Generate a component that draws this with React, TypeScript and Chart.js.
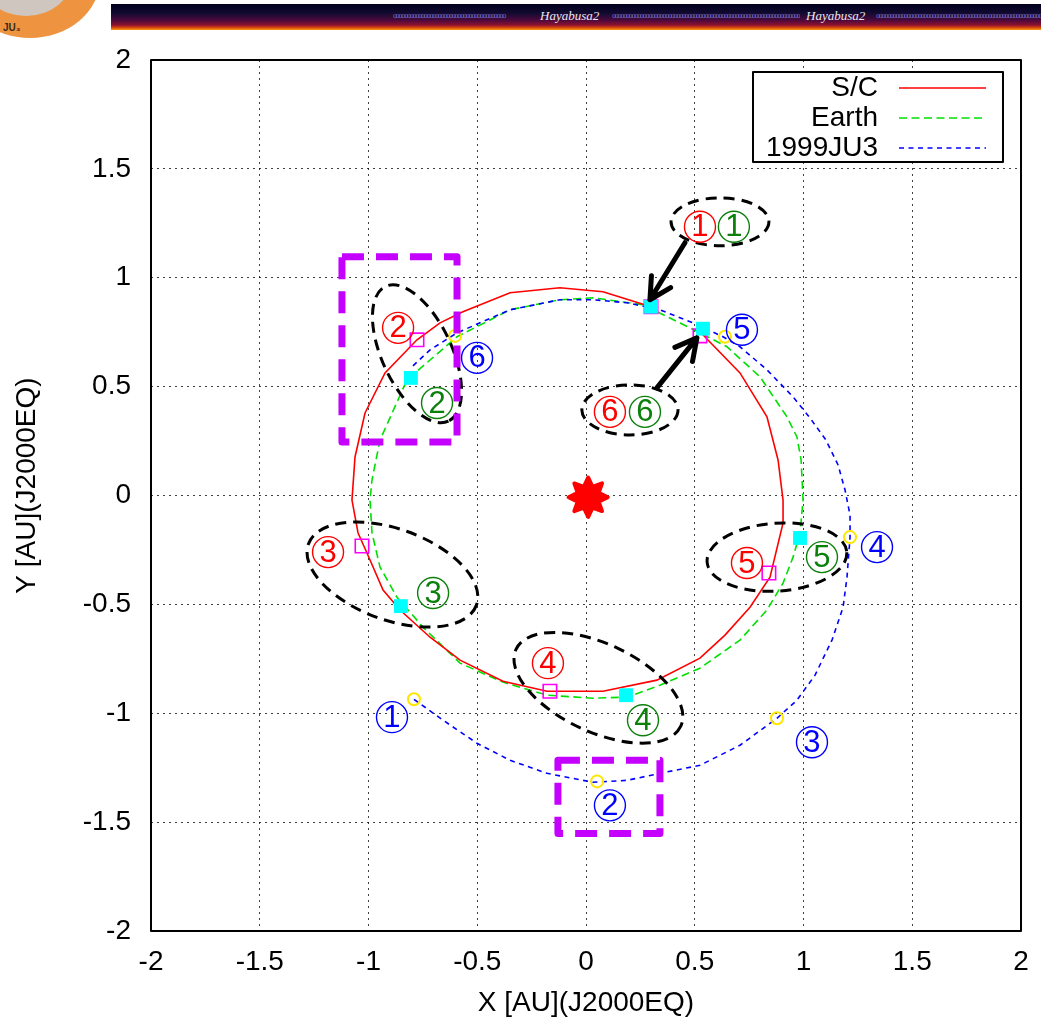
import React, { useEffect, useRef } from "react";
import { Chart, registerables } from "chart.js";

Chart.register(...registerables);

const FONT = "'Liberation Sans', Arial, Helvetica, sans-serif";

// ---- axes ----
const axisMin = -2;
const axisMax = 2;
const tickStep = 0.5;
const xTitle = "X [AU](J2000EQ)";
const yTitle = "Y [AU](J2000EQ)";

// ---- series labels ----
const seriesLabels = ["S/C", "Earth", "1999JU3"];

// ---- trajectories (AU) ----
const scPath: [number, number][] = [
  [0.299, 0.867], [0.078, 0.936], [-0.12, 0.954], [-0.349, 0.931], [-0.566, 0.844],
  [-0.671, 0.793], [-0.777, 0.715], [-0.924, 0.563], [-1.016, 0.379], [-1.062, 0.177],
  [-1.076, -0.021], [-1.048, -0.172], [-1.007, -0.264], [-0.933, -0.434], [-0.855, -0.526],
  [-0.717, -0.651], [-0.579, -0.756], [-0.382, -0.853], [-0.179, -0.899], [0.078, -0.899],
  [0.326, -0.848], [0.524, -0.747], [0.639, -0.641], [0.754, -0.513], [0.846, -0.375],
  [0.906, -0.126], [0.906, -0.021], [0.883, 0.163], [0.832, 0.361], [0.708, 0.563],
  [0.524, 0.752],
];

const earthPath: [number, number][] = [
  [0.262, 0.876], [0.032, 0.908], [-0.12, 0.899], [-0.349, 0.853], [-0.593, 0.729],
  [-0.823, 0.531], [-0.947, 0.255], [-0.984, 0.071], [-0.993, -0.021], [-0.984, -0.172],
  [-0.947, -0.329], [-0.869, -0.467], [-0.749, -0.605], [-0.579, -0.77], [-0.382, -0.857],
  [-0.179, -0.917], [0.032, -0.931], [0.189, -0.926], [0.34, -0.871], [0.524, -0.793],
  [0.708, -0.664], [0.832, -0.526], [0.906, -0.402], [0.952, -0.283], [0.984, -0.172],
  [0.998, -0.021], [0.989, 0.163], [0.97, 0.269], [0.924, 0.361], [0.8, 0.545],
  [0.648, 0.683], [0.524, 0.747], [0.262, 0.876],
];

const ju3Path: [number, number][] = [
  [-0.791, -0.936], [-0.657, -1.032], [-0.501, -1.138], [-0.349, -1.216], [-0.179, -1.276],
  [0.032, -1.317], [0.189, -1.308], [0.34, -1.276], [0.524, -1.239], [0.708, -1.147],
  [0.878, -1.023], [0.97, -0.94], [1.053, -0.825], [1.131, -0.664], [1.182, -0.513],
  [1.2, -0.375], [1.214, -0.191], [1.214, -0.09], [1.191, 0.025], [1.159, 0.14],
  [1.103, 0.255], [1.03, 0.356], [0.952, 0.453], [0.832, 0.577], [0.708, 0.683],
  [0.63, 0.729], [0.492, 0.793], [0.34, 0.853], [0.189, 0.885], [0.032, 0.899],
  [-0.12, 0.899], [-0.349, 0.853], [-0.487, 0.793], [-0.593, 0.747], [-0.717, 0.669],
  [-0.8, 0.591],
];

// ---- event markers 1..6 ----
const scMarks: [number, number][] = [
  [0.299, 0.867], [-0.777, 0.715], [-1.03, -0.232], [-0.166, -0.899], [0.841, -0.356], [0.524, 0.733],
];
const earthMarks: [number, number][] = [
  [0.299, 0.867], [-0.805, 0.54], [-0.851, -0.508], [0.184, -0.917], [0.984, -0.195], [0.538, 0.766],
];
const ju3Marks: [number, number][] = [
  [-0.791, -0.936], [0.051, -1.313], [0.878, -1.023], [1.214, -0.191], [0.639, 0.729], [-0.602, 0.733],
];
const sunPos: [number, number] = [0.01, -0.008];

// ---- annotations (AU) ----
const RED = "#ff0000";
const GREEN = "#0b800b";
const BLUE = "#0000ff";
const circledLabels: { t: string; c: string; p: [number, number] }[] = [
  { t: "1", c: RED, p: [0.524, 1.234] },
  { t: "1", c: GREEN, p: [0.68, 1.234] },
  { t: "6", c: RED, p: [0.11, 0.384] },
  { t: "6", c: GREEN, p: [0.271, 0.384] },
  { t: "5", c: BLUE, p: [0.717, 0.761] },
  { t: "2", c: RED, p: [-0.864, 0.77] },
  { t: "2", c: GREEN, p: [-0.685, 0.425] },
  { t: "6", c: BLUE, p: [-0.501, 0.632] },
  { t: "3", c: RED, p: [-1.186, -0.26] },
  { t: "3", c: GREEN, p: [-0.703, -0.448] },
  { t: "5", c: RED, p: [0.74, -0.31] },
  { t: "5", c: GREEN, p: [1.085, -0.283] },
  { t: "4", c: BLUE, p: [1.338, -0.237] },
  { t: "4", c: RED, p: [-0.175, -0.77] },
  { t: "4", c: GREEN, p: [0.262, -1.032] },
  { t: "1", c: BLUE, p: [-0.892, -1.018] },
  { t: "2", c: BLUE, p: [0.11, -1.423] },
  { t: "3", c: BLUE, p: [1.039, -1.133] },
];
const ellipses: { p: [number, number]; rx: number; ry: number; rot: number }[] = [
  { p: [0.616, 1.257], rx: 0.225, ry: 0.11, rot: 0 },
  { p: [-0.777, 0.651], rx: 0.342, ry: 0.16, rot: 65 },
  { p: [-0.89, -0.363], rx: 0.411, ry: 0.209, rot: 20 },
  { p: [0.057, -0.883], rx: 0.418, ry: 0.202, rot: 25 },
  { p: [0.878, -0.283], rx: 0.322, ry: 0.156, rot: -4 },
  { p: [0.202, 0.393], rx: 0.221, ry: 0.115, rot: 0 },
];
const boxes: { x0: number; y0: number; x1: number; y1: number }[] = [
  { x0: -1.122, y0: 1.097, x1: -0.593, y1: 0.246 },
  { x0: -0.129, y0: -1.216, x1: 0.34, y1: -1.552 },
];
const arrows: { from: [number, number]; to: [number, number] }[] = [
  { from: [0.455, 1.161], to: [0.294, 0.899] },
  { from: [0.326, 0.494], to: [0.51, 0.724] },
];

const toPts = (a: [number, number][]) => a.map(([x, y]) => ({ x, y }));

const overlayPlugin = {
  id: "overlay",
  afterDatasetsDraw(chart: any) {
    const { ctx, chartArea: a } = chart;
    const sx = chart.scales.x;
    const sy = chart.scales.y;
    const px = (v: number) => sx.getPixelForValue(v);
    const py = (v: number) => sy.getPixelForValue(v);
    const ux = px(1) - px(0);
    const uy = py(0) - py(1);

    ctx.save();
    // Sun
    {
      const cx = px(sunPos[0]);
      const cy = py(sunPos[1]);
      ctx.beginPath();
      for (let i = 0; i < 16; i++) {
        const ang = (i * Math.PI) / 8 - Math.PI / 2;
        const r = i % 2 === 0 ? 0.09 * ux : 0.052 * ux;
        const X = cx + r * Math.cos(ang);
        const Y = cy + r * Math.sin(ang);
        if (i === 0) ctx.moveTo(X, Y);
        else ctx.lineTo(X, Y);
      }
      ctx.closePath();
      ctx.fillStyle = "#ff0000";
      ctx.strokeStyle = "#ff0000";
      ctx.lineJoin = "round";
      ctx.lineWidth = 4;
      ctx.fill();
      ctx.stroke();
    }

    // dashed ellipses
    ctx.strokeStyle = "#000";
    ctx.lineWidth = 3;
    ctx.setLineDash([11, 7]);
    ctx.lineCap = "butt";
    for (const e of ellipses) {
      ctx.beginPath();
      ctx.ellipse(px(e.p[0]), py(e.p[1]), e.rx * ux, e.ry * uy, (e.rot * Math.PI) / 180, 0, Math.PI * 2);
      ctx.stroke();
    }

    // magenta boxes
    ctx.strokeStyle = "#c400ff";
    ctx.lineWidth = 7;
    ctx.lineJoin = "round";
    ctx.setLineDash([22, 12]);
    for (const b of boxes) {
      ctx.beginPath();
      ctx.rect(px(b.x0), py(b.y0), px(b.x1) - px(b.x0), py(b.y1) - py(b.y0));
      ctx.stroke();
    }

    // arrows
    ctx.setLineDash([]);
    ctx.strokeStyle = "#000";
    ctx.lineWidth = 5;
    ctx.lineCap = "round";
    for (const ar of arrows) {
      const x0 = px(ar.from[0]);
      const y0 = py(ar.from[1]);
      const x1 = px(ar.to[0]);
      const y1 = py(ar.to[1]);
      const ang = Math.atan2(y1 - y0, x1 - x0);
      ctx.beginPath();
      ctx.moveTo(x0, y0);
      ctx.lineTo(x1, y1);
      const hl = 24;
      const ha = (28 * Math.PI) / 180;
      ctx.moveTo(x1 - hl * Math.cos(ang - ha), y1 - hl * Math.sin(ang - ha));
      ctx.lineTo(x1, y1);
      ctx.lineTo(x1 - hl * Math.cos(ang + ha), y1 - hl * Math.sin(ang + ha));
      ctx.stroke();
    }

    // circled labels
    ctx.font = `31px ${FONT}`;
    ctx.textAlign = "center";
    ctx.textBaseline = "middle";
    ctx.lineWidth = 1.4;
    for (const l of circledLabels) {
      const cx = px(l.p[0]);
      const cy = py(l.p[1]);
      ctx.strokeStyle = l.c;
      ctx.fillStyle = l.c;
      ctx.beginPath();
      ctx.arc(cx, cy, 15.5, 0, Math.PI * 2);
      ctx.stroke();
      ctx.fillText(l.t, cx, cy + 1);
    }

    // frame
    ctx.strokeStyle = "#000";
    ctx.lineWidth = 2;
    ctx.lineCap = "butt";
    ctx.strokeRect(a.left, a.top, a.right - a.left, a.bottom - a.top);

    // legend
    const bw = 250;
    const bh = 90;
    const bx = a.right - 18 - bw;
    const by = a.top + 12;
    ctx.fillStyle = "#fff";
    ctx.fillRect(bx, by, bw, bh);
    ctx.lineWidth = 2;
    ctx.strokeRect(bx, by, bw, bh);
    ctx.font = `28px ${FONT}`;
    ctx.textAlign = "right";
    ctx.textBaseline = "middle";
    chart.data.datasets.slice(0, 3).forEach((ds: any, i: number) => {
      const ry = by + 16 + i * 30;
      ctx.fillStyle = "#000";
      ctx.fillText(ds.label, bx + 125, ry);
      ctx.strokeStyle = ds.borderColor;
      ctx.lineWidth = ds.borderWidth;
      ctx.setLineDash(ds.borderDash || []);
      ctx.beginPath();
      ctx.moveTo(bx + 146, ry);
      ctx.lineTo(bx + 233, ry);
      ctx.stroke();
      ctx.setLineDash([]);
    });

    // axis titles
    ctx.fillStyle = "#000";
    ctx.font = `28px ${FONT}`;
    ctx.textAlign = "center";
    ctx.textBaseline = "middle";
    ctx.fillText(xTitle, (a.left + a.right) / 2, a.bottom + 72);
    ctx.save();
    ctx.translate(27, (a.top + a.bottom) / 2 - 10);
    ctx.rotate(-Math.PI / 2);
    ctx.fillText(yTitle, 0, 0);
    ctx.restore();

    ctx.restore();
  },
};

function Banner() {
  const pattern = "o".repeat(40);
  const patStyle: React.CSSProperties = {
    position: "absolute",
    top: 11,
    fontSize: 8,
    letterSpacing: -1.2,
    color: "#6f6fc8",
    fontFamily: "'Liberation Serif', serif",
    whiteSpace: "nowrap",
    overflow: "hidden",
    lineHeight: "10px",
  };
  const textStyle: React.CSSProperties = {
    position: "absolute",
    top: 8,
    fontSize: 13,
    fontStyle: "italic",
    color: "#e8e8f0",
    fontFamily: "'Liberation Serif', 'DejaVu Serif', serif",
    lineHeight: "16px",
    whiteSpace: "nowrap",
  };
  return (
    <>
      <div
        style={{
          position: "absolute",
          left: -40,
          top: -80,
          width: 140,
          height: 118,
          borderRadius: "50%",
          background: "#ee9440",
          overflow: "hidden",
        }}
      >
        <div
          style={{
            position: "absolute",
            left: 18,
            top: 10,
            width: 96,
            height: 86,
            borderRadius: "50%",
            background: "#cfc6bf",
          }}
        />
      </div>
      <div
        style={{
          position: "absolute",
          left: 3,
          top: 22,
          fontSize: 10,
          fontWeight: "bold",
          color: "#3a2a1a",
          fontFamily: FONT,
        }}
      >
        JU₃
      </div>
      <div
        style={{
          position: "absolute",
          left: 111,
          top: 4,
          width: 930,
          height: 26,
          background:
            "linear-gradient(to bottom, #00001c 0%, #120a30 35%, #4a0a3c 62%, #8a1030 80%, #d04010 90%, #ff9a10 100%)",
        }}
      />
      <div style={{ ...patStyle, left: 393, width: 140 }}>{pattern}</div>
      <div style={{ ...textStyle, left: 540 }}>Hayabusa2</div>
      <div style={{ ...patStyle, left: 612, width: 188 }}>{pattern + pattern}</div>
      <div style={{ ...textStyle, left: 806 }}>Hayabusa2</div>
      <div style={{ ...patStyle, left: 876, width: 165 }}>{pattern + pattern}</div>
    </>
  );
}

export default function App() {
  const ref = useRef<HTMLCanvasElement | null>(null);

  useEffect(() => {
    if (!ref.current) return;
    const tickFont = { size: 28, family: FONT };
    const chart = new Chart(ref.current, {
      type: "scatter",
      data: {
        datasets: [
          {
            label: seriesLabels[0],
            data: toPts(scPath),
            showLine: true,
            borderColor: "#ff0000",
            borderWidth: 1.6,
            pointRadius: 0,
            order: 4,
          },
          {
            label: seriesLabels[1],
            data: toPts(earthPath),
            showLine: true,
            borderColor: "#00e000",
            borderWidth: 1.6,
            borderDash: [8, 4.5],
            pointRadius: 0,
            order: 6,
          },
          {
            label: seriesLabels[2],
            data: toPts(ju3Path),
            showLine: true,
            borderColor: "#0000ff",
            borderWidth: 1.6,
            borderDash: [5, 4.5],
            pointRadius: 0,
            order: 5,
          },
          {
            label: "S/C events",
            data: toPts(scMarks),
            showLine: false,
            pointStyle: "rect",
            pointRadius: 9.5,
            borderColor: "#ff00ff",
            backgroundColor: "rgba(0,0,0,0)",
            borderWidth: 1.6,
            order: 2,
          },
          {
            label: "Earth events",
            data: toPts(earthMarks),
            showLine: false,
            pointStyle: "rect",
            pointRadius: 9.8,
            borderColor: "#00ffff",
            backgroundColor: "#00ffff",
            borderWidth: 0,
            order: 1,
          },
          {
            label: "1999JU3 events",
            data: toPts(ju3Marks),
            showLine: false,
            pointStyle: "circle",
            pointRadius: 6,
            borderColor: "#ffe600",
            backgroundColor: "rgba(0,0,0,0)",
            borderWidth: 2,
            order: 3,
          },
        ],
      },
      options: {
        animation: false,
        responsive: false,
        maintainAspectRatio: false,
        devicePixelRatio: 1,
        events: [],
        layout: { padding: { left: 0, top: 60, right: 20, bottom: 0 } },
        scales: {
          x: {
            type: "linear",
            min: axisMin,
            max: axisMax,
            afterFit: (s: any) => {
              s.height = 100;
              s.paddingLeft = 0;
              s.paddingRight = 0;
            },
            ticks: {
              stepSize: tickStep,
              font: tickFont,
              color: "#000",
              padding: 14,
              maxRotation: 0,
              autoSkip: false,
              callback: (v: any) => `${v}`,
            },
            grid: { color: "rgba(0,0,0,0.75)", lineWidth: 1, drawTicks: false },
            border: { display: false, dash: [2, 4] },
          },
          y: {
            type: "linear",
            min: axisMin,
            max: axisMax,
            afterFit: (s: any) => {
              s.width = 151;
              s.paddingTop = 0;
              s.paddingBottom = 0;
            },
            ticks: {
              stepSize: tickStep,
              font: tickFont,
              color: "#000",
              padding: 20,
              autoSkip: false,
              callback: (v: any) => `${v}`,
            },
            grid: { color: "rgba(0,0,0,0.75)", lineWidth: 1, drawTicks: false },
            border: { display: false, dash: [2, 4] },
          },
        },
        plugins: {
          legend: { display: false },
          tooltip: { enabled: false },
        },
      },
      plugins: [overlayPlugin],
    } as any);
    return () => chart.destroy();
  }, []);

  return (
    <div
      style={{
        position: "fixed",
        left: 0,
        top: 0,
        width: 1041,
        height: 1031,
        background: "#fff",
        overflow: "hidden",
      }}
    >
      <Banner />
      <canvas ref={ref} width={1041} height={1031} style={{ position: "absolute", left: 0, top: 0 }} />
    </div>
  );
}
